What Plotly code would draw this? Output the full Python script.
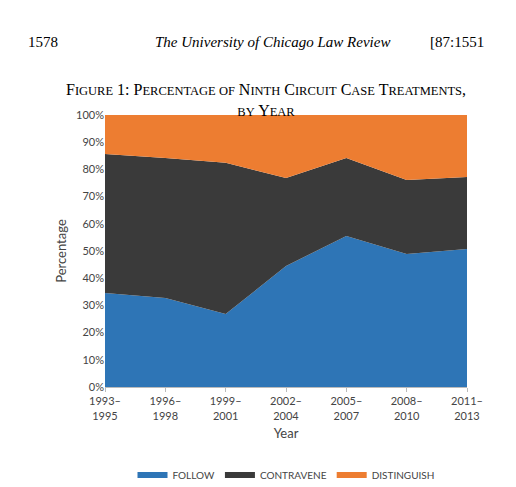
import plotly.graph_objects as go

years = ["1993–<br>1995","1996–<br>1998","1999–<br>2001","2002–<br>2004","2005–<br>2007","2008–<br>2010","2011–<br>2013"]
follow = [34.6, 32.7, 26.8, 44.5, 55.5, 48.9, 50.7]
contra_top = [85.7, 84.2, 82.4, 76.8, 84.2, 76.1, 77.2]
contravene = [round(t - f, 1) for t, f in zip(contra_top, follow)]
distinguish = [round(100 - t, 1) for t in contra_top]

fig = go.Figure()
for name, vals, col in [("FOLLOW", follow, "#2e75b6"), ("CONTRAVENE", contravene, "#3a3a3a"), ("DISTINGUISH", distinguish, "#ed7d31")]:
    fig.add_trace(go.Scatter(x=list(range(7)), y=vals, name=name, stackgroup="one", mode="none",
                             fillcolor=col, line=dict(width=0)))

fig.update_layout(
    width=516, height=487, paper_bgcolor="white", plot_bgcolor="white",
    margin=dict(l=97, r=57, t=107, b=108, autoexpand=False),
    font=dict(family="Lato, DejaVu Sans", size=11, color="#444"),
    showlegend=True,
    legend=dict(orientation="h", x=0.5, xanchor="center", y=-0.27, yanchor="top", font=dict(size=10),
                traceorder="normal"),
    xaxis=dict(tickvals=list(range(7)), ticktext=years, range=[0, 6], showgrid=False, automargin=False,
               showline=True, linecolor="#bbb", ticks="outside", ticklen=4, tickcolor="#bbb",
               title=dict(text="Year", standoff=8)),
    yaxis=dict(range=[0, 100], dtick=10, ticksuffix="%", showgrid=False, showline=False, automargin=False,
               title=dict(text="Percentage", standoff=6)),
)
hdr = dict(family="Liberation Serif", size=15, color="black")
anns = [
    dict(text="1578", px=18, py=24, xanchor="left"),
    dict(text="<i>The University of Chicago Law Review</i>", px=264, py=24, xanchor="center"),
    dict(text="[87:1551", px=478, py=24, xanchor="right"),
]
h = 487 - 107 - 108; w = 516 - 97 - 57
for a in anns:
    fig.add_annotation(text=a["text"], x=(a["px"] - 97) / w, y=(487 - 108 - a["py"]) / h, xref="paper", yref="paper",
                       showarrow=False, xanchor=a["xanchor"], font=hdr)
s = "<span style='font-size:12.5px'>"
fig.add_annotation(text=f"F{s}IGURE</span> 1: P{s}ERCENTAGE OF</span> N{s}INTH</span> C{s}IRCUIT</span> C{s}ASE</span> T{s}REATMENTS</span>,<br>"
                   f"{s}BY</span> Y{s}EAR</span>",
                   x=(258 - 97) / w, y=(487 - 108 - 71) / h, xref="paper", yref="paper", showarrow=False,
                   font=dict(family="Liberation Serif", size=16, color="black"))
fig.write_html("out.html")
